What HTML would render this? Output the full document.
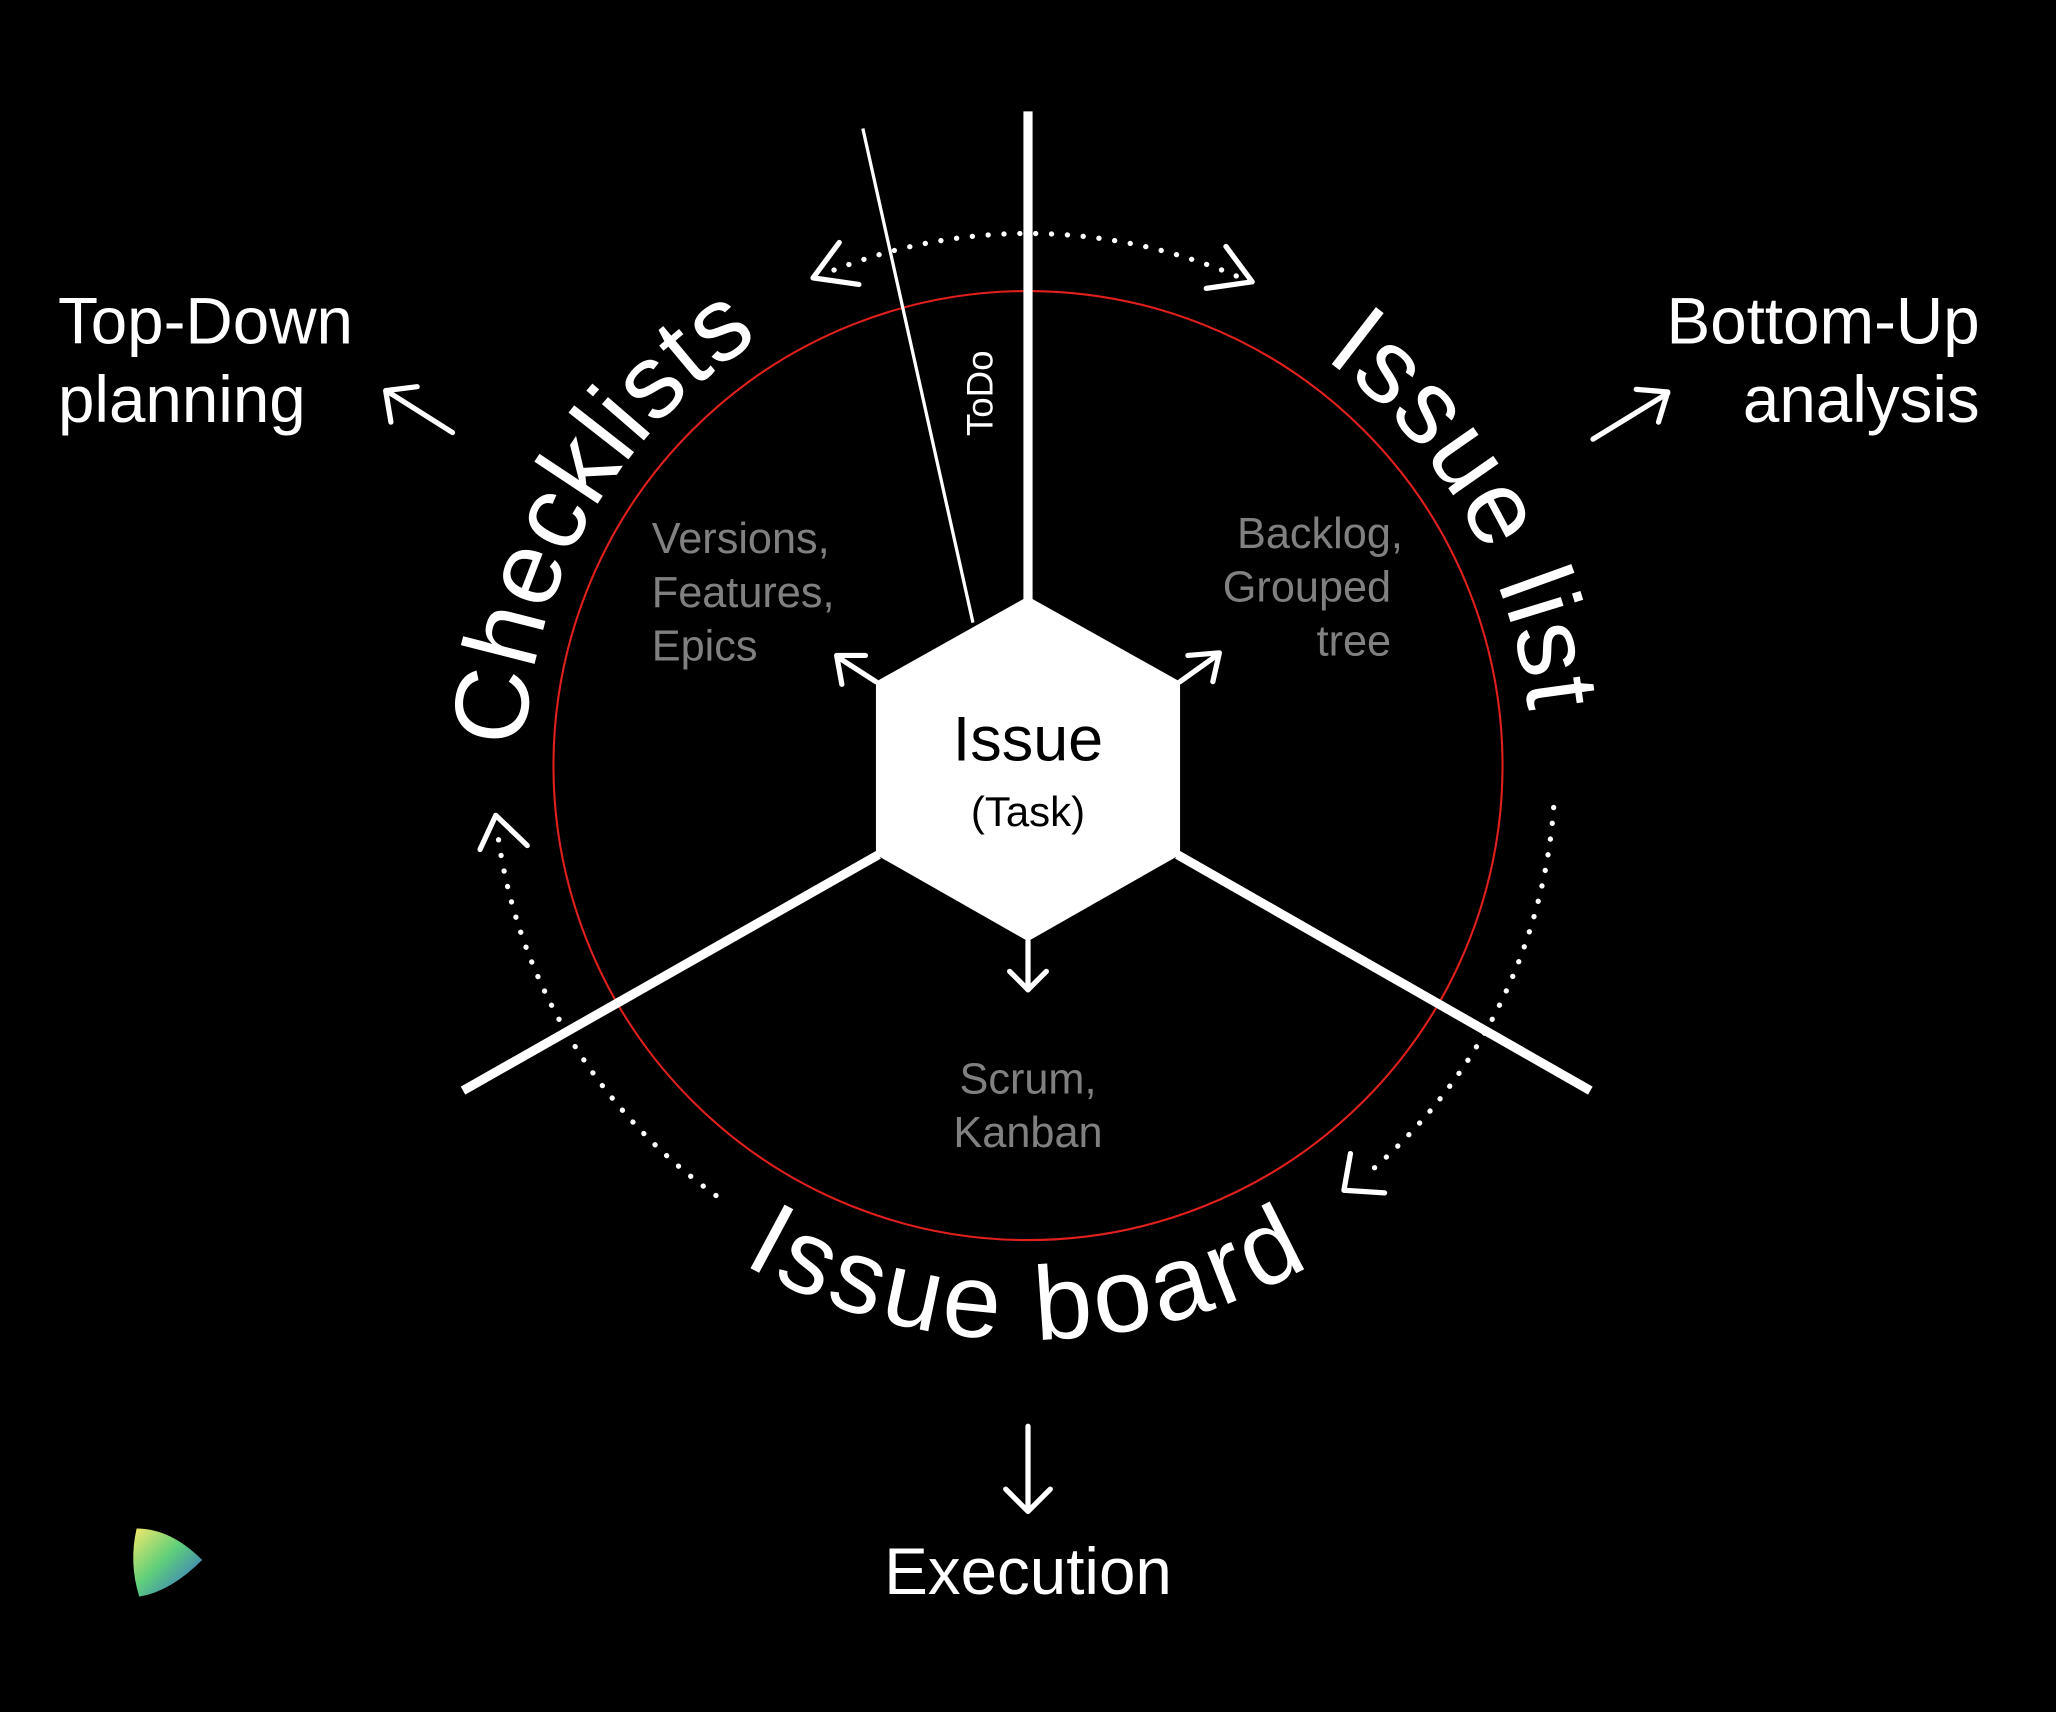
<!DOCTYPE html>
<html><head><meta charset="utf-8"><style>
html,body{margin:0;padding:0;background:#000;width:2056px;height:1712px;overflow:hidden}
svg{display:block}
text{font-family:"Liberation Sans",sans-serif}
</style></head><body>
<svg width="2056" height="1712" viewBox="0 0 1568 1306" xmlns="http://www.w3.org/2000/svg">
<defs>
<path id="pc" d="M 403.7 637.4 A 384 384 0 0 1 640.2 228.0"/>
<path id="pl" d="M 927.8 228.0 A 384 384 0 0 1 1164.3 637.4"/>
<path id="pb" d="M 403 800 A 438 438 0 0 0 1165 800"/>
<linearGradient id="lg" x1="0" y1="0" x2="1" y2="1">
<stop offset="0" stop-color="#f3e96a"/><stop offset="0.45" stop-color="#5fcf7a"/><stop offset="1" stop-color="#2f5fd6"/>
</linearGradient>
</defs>
<rect width="1568" height="1306" fill="#000"/>
<circle cx="784" cy="584" r="362" fill="none" stroke="#e0201c" stroke-width="1.6"/>
<g stroke="#fff" stroke-width="7" fill="none">
<line x1="784" y1="85" x2="784" y2="458"/>
<line x1="670" y1="652" x2="353" y2="832"/>
<line x1="898" y1="652" x2="1213" y2="832"/>
</g>
<line x1="658" y1="98" x2="742" y2="475" stroke="#fff" stroke-width="2.5"/>
<polygon points="784,455 900,520 900,652 784,718 668,652 668,520" fill="#fff"/>
<text x="784" y="580" font-size="48" text-anchor="middle" fill="#000">Issue</text>
<text x="784" y="630" font-size="32" text-anchor="middle" fill="#000">(Task)</text>
<text transform="translate(757,300) rotate(-90)" font-size="28" text-anchor="middle" fill="#fff">ToDo</text>
<g fill="#808080" font-size="33">
<text x="497" y="422">Versions,</text><text x="497" y="463">Features,</text><text x="497" y="504">Epics</text>
<text x="1070" y="418" text-anchor="end">Backlog,</text><text x="1061" y="459" text-anchor="end">Grouped</text><text x="1061" y="500" text-anchor="end">tree</text>
<text x="784" y="834" text-anchor="middle">Scrum,</text><text x="784" y="875" text-anchor="middle">Kanban</text>
</g>
<g stroke="#fff" stroke-width="4" fill="none" stroke-linecap="round" stroke-linejoin="round">
<line x1="668" y1="520" x2="640" y2="502"/><polyline points="642,522 638,500 660,500"/>
<line x1="900" y1="520" x2="928" y2="500"/><polyline points="906,500 930,498 925,520"/>
<line x1="784" y1="718" x2="784" y2="755"/><polyline points="770,741 784,755 798,741"/>
<line x1="345" y1="330" x2="296" y2="299"/><polyline points="298,322 294,298 318,295"/>
<line x1="1215" y1="335" x2="1272" y2="300"/><polyline points="1248,297 1272,299 1265,322"/>
<line x1="784" y1="1088" x2="784" y2="1152"/><polyline points="767,1136 784,1153 801,1136"/>
<polyline points="640,185 620,212 655,217"/>
<polyline points="935,188 955,215 920,220"/>
<polyline points="366,648 378,622 402,645"/>
<polyline points="1030,880 1025,908 1056,910"/>
</g>
<g stroke="#fff" stroke-width="4" fill="none" stroke-linecap="round" stroke-dasharray="0.1 12">
<path d="M 636 206 A 406 406 0 0 1 944 211"/>
<path d="M 546 912 A 406 406 0 0 1 380 640"/>
<path d="M 1185 616 A 406 406 0 0 1 1040 898"/>
</g>
<g fill="#fff" font-size="80">
<text><textPath href="#pc" startOffset="50%" text-anchor="middle" letter-spacing="1">Checklists</textPath></text>
<text><textPath href="#pl" startOffset="50%" text-anchor="middle" letter-spacing="1">Issue list</textPath></text>
<text><textPath href="#pb" startOffset="50%" text-anchor="middle" letter-spacing="3.5">Issue board</textPath></text>
</g>
<g fill="#fff" font-size="50">
<text x="44" y="262">Top-Down</text><text x="44" y="322">planning</text>
<text x="1510" y="262" text-anchor="end">Bottom-Up</text><text x="1510" y="322" text-anchor="end">analysis</text>
<text x="784" y="1216" text-anchor="middle">Execution</text>
</g>
<path d="M104 1166 Q130 1166 154 1190 Q130 1214 106 1218 Q98 1192 104 1166 Z" fill="url(#lg)"/>
</svg>
</body></html>
